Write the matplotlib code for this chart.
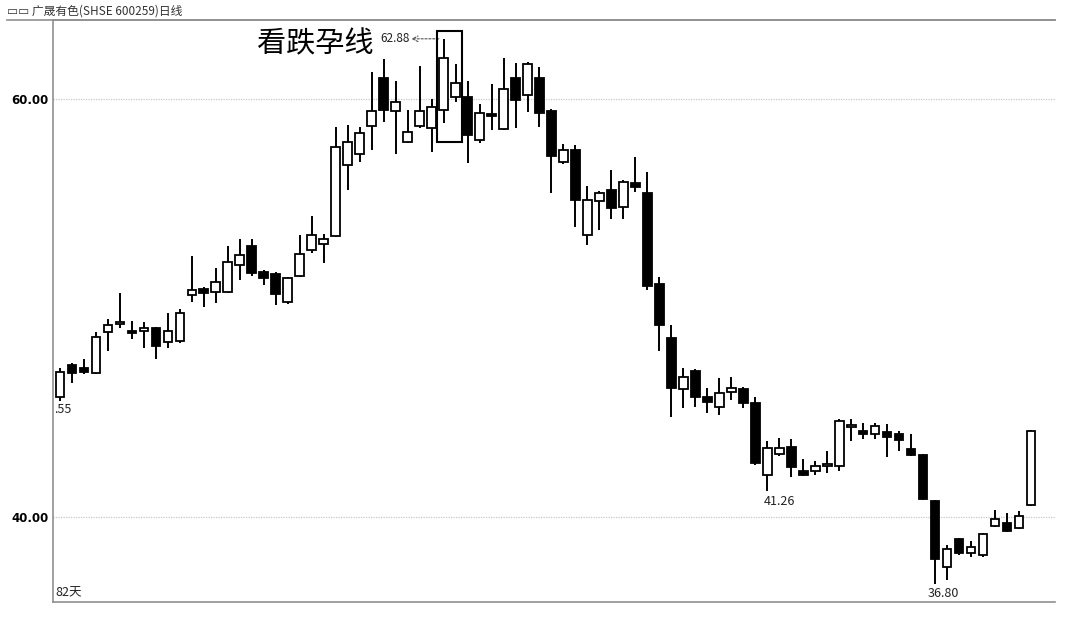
import numpy as np
import matplotlib
matplotlib.use("Agg")
import matplotlib.pyplot as plt
from matplotlib.patches import Rectangle

plt.rcParams['font.family'] = ['Noto Sans CJK SC', 'DejaVu Sans']

# daily OHLC (82 days)
opens = [45.74, 47.27, 47.13, 46.89, 48.85, 49.23, 48.85, 48.90, 49.04, 48.37,
         48.42, 50.62, 50.91, 50.77, 50.77, 52.06, 52.97, 51.72, 51.63, 50.29,
         51.53, 52.78, 53.06, 53.44, 56.84, 57.37, 58.71, 61.00, 59.43, 57.94,
         58.71, 58.61, 59.47, 60.10, 60.10, 58.04, 59.28, 58.56, 61.00, 60.19,
         61.00, 59.43, 56.99, 57.56, 53.49, 55.12, 55.65, 54.83, 55.98, 55.50,
         51.15, 48.56, 46.12, 46.99, 45.74, 45.26, 45.98, 46.12, 45.45, 42.01,
         43.01, 43.35, 42.20, 42.20, 42.44, 42.44, 44.31, 44.11, 43.97, 44.07,
         43.97, 43.25, 42.97, 40.77, 37.61, 38.95, 38.28, 38.18, 39.57, 39.71,
         39.47, 40.57]
highs = [47.13, 47.35, 47.56, 48.85, 49.47, 50.72, 49.38, 49.33, 49.10, 49.76,
         49.95, 52.49, 51.00, 51.91, 52.97, 53.30, 53.30, 51.80, 51.70, 51.50,
         53.49, 54.40, 53.54, 58.66, 58.76, 58.66, 61.29, 61.91, 60.86, 59.47,
         61.58, 60.00, 62.88, 61.67, 60.86, 59.76, 60.72, 61.96, 61.72, 61.77,
         61.53, 59.50, 57.85, 57.80, 55.84, 55.60, 56.60, 56.12, 57.22, 56.51,
         51.48, 49.19, 47.13, 47.10, 46.17, 46.65, 46.70, 46.20, 45.74, 43.64,
         43.78, 43.73, 42.78, 42.68, 43.16, 44.69, 44.69, 44.50, 44.50, 44.45,
         44.11, 43.97, 43.00, 40.80, 38.66, 39.00, 38.85, 39.23, 40.33, 40.19,
         40.29, 44.15]
lows = [45.55, 46.41, 46.84, 46.85, 47.94, 49.04, 48.52, 48.09, 47.56, 48.09,
        48.33, 50.29, 50.05, 50.24, 50.72, 51.34, 51.53, 51.10, 50.14, 50.20,
        51.50, 52.63, 52.15, 53.40, 55.65, 56.99, 57.56, 58.90, 57.37, 57.90,
        58.60, 57.46, 58.85, 59.86, 56.94, 57.90, 58.52, 58.50, 58.61, 59.38,
        58.66, 55.50, 56.90, 53.88, 53.01, 53.73, 54.26, 54.26, 55.55, 50.86,
        47.94, 44.78, 45.22, 45.26, 44.98, 44.88, 45.60, 45.22, 42.49, 41.26,
        42.92, 41.91, 41.95, 42.01, 42.11, 42.20, 43.64, 43.73, 43.73, 42.87,
        43.16, 42.90, 40.80, 36.80, 36.99, 38.20, 38.09, 38.10, 39.50, 39.30,
        39.40, 40.53]
closes = [46.94, 46.89, 46.94, 48.61, 49.19, 49.28, 48.80, 49.04, 48.18, 48.90,
          49.76, 50.86, 50.72, 51.24, 52.20, 52.54, 51.67, 51.44, 50.67, 51.44,
          52.58, 53.49, 53.30, 57.70, 57.94, 58.37, 59.43, 59.47, 59.86, 58.42,
          59.43, 59.62, 61.96, 60.77, 58.28, 59.33, 59.19, 60.48, 59.95, 61.67,
          59.33, 57.27, 57.56, 55.17, 55.17, 55.50, 54.78, 56.03, 55.79, 51.05,
          49.19, 46.17, 46.70, 45.74, 45.50, 45.93, 46.17, 45.45, 42.58, 43.30,
          43.30, 42.39, 42.01, 42.44, 42.49, 44.59, 44.35, 43.97, 44.35, 43.83,
          43.68, 42.97, 40.86, 37.99, 38.47, 38.28, 38.56, 39.19, 39.90, 39.33,
          40.05, 44.11]

days = np.arange(1, len(opens) + 1)
o = np.array(opens)
c = np.array(closes)
h = np.array(highs)
l = np.array(lows)

fig = plt.figure(figsize=(10.68, 6.23), dpi=100)
ax = fig.add_axes([53/1068, 1 - 602/623, 1002/1068, 582/623])

up = c >= o
ax.vlines(days, l, h, color='black', linewidth=1.4, zorder=2)
body_bot = np.minimum(o, c)
body_h = np.maximum(np.abs(c - o), 0.08)
ax.bar(days[up], body_h[up], bottom=body_bot[up], width=0.72,
       color='white', edgecolor='black', linewidth=1.3, zorder=3)
ax.bar(days[~up], body_h[~up], bottom=body_bot[~up], width=0.72,
       color='black', edgecolor='black', linewidth=1.3, zorder=3)

ax.set_xlim(0.42, 84.0)
ax.set_ylim(35.93, 63.78)

# grid + axes look
for lev in [60, 40]:
    ax.axhline(lev, color='#c8c8c8', linewidth=0.9, linestyle=(0, (1, 1)), zorder=0)
ax.set_xticks([])
ax.set_yticks([60, 40])
ax.set_yticklabels(['60.00', '40.00'], fontsize=8.5, fontweight='bold',
                   family='DejaVu Sans')
ax.tick_params(axis='y', length=0, pad=3)
ax.spines['right'].set_visible(False)
for s in ['left', 'bottom', 'top']:
    ax.spines[s].set_color('#909090')
    ax.spines[s].set_linewidth(1.2)

# annotations
ax.add_patch(Rectangle((32.44, 57.94), 2.09, 5.31, fill=False,
                       edgecolor='black', linewidth=1.5, zorder=4))
ax.text(17.4, 62.63, '看跌孕线', fontsize=21, va='center', ha='left')
ax.text(27.7, 62.88, '62.88', fontsize=8.5, va='center', ha='left', color='#222222')
ax.annotate('', xy=(30.3, 62.88), xytext=(32.6, 62.88),
            arrowprops=dict(arrowstyle='->', linestyle=(0, (2, 1.5)),
                            color='#555555', linewidth=0.8, shrinkA=0, shrinkB=0))
ax.text(61.0, 40.75, '41.26', fontsize=9, ha='center', va='center', color='#222222')
ax.text(74.7, 36.32, '36.80', fontsize=9, ha='center', va='center', color='#222222')
ax.text(0.5, 45.12, '.55', fontsize=9, ha='left', va='center', color='#222222')
ax.text(0.6, 36.35, '82天', fontsize=9, ha='left', va='center', color='#222222')

fig.text(7/1068, 1 - 11/623, '▭▭ 广晟有色(SHSE 600259)日线', fontsize=8.5,
         ha='left', va='center', color='#333333')
fig.add_artist(plt.Line2D([7/1068, 1055/1068], [1 - 20/623, 1 - 20/623],
                          color='#909090', linewidth=1.2))

fig.savefig('out.png', dpi=100)
